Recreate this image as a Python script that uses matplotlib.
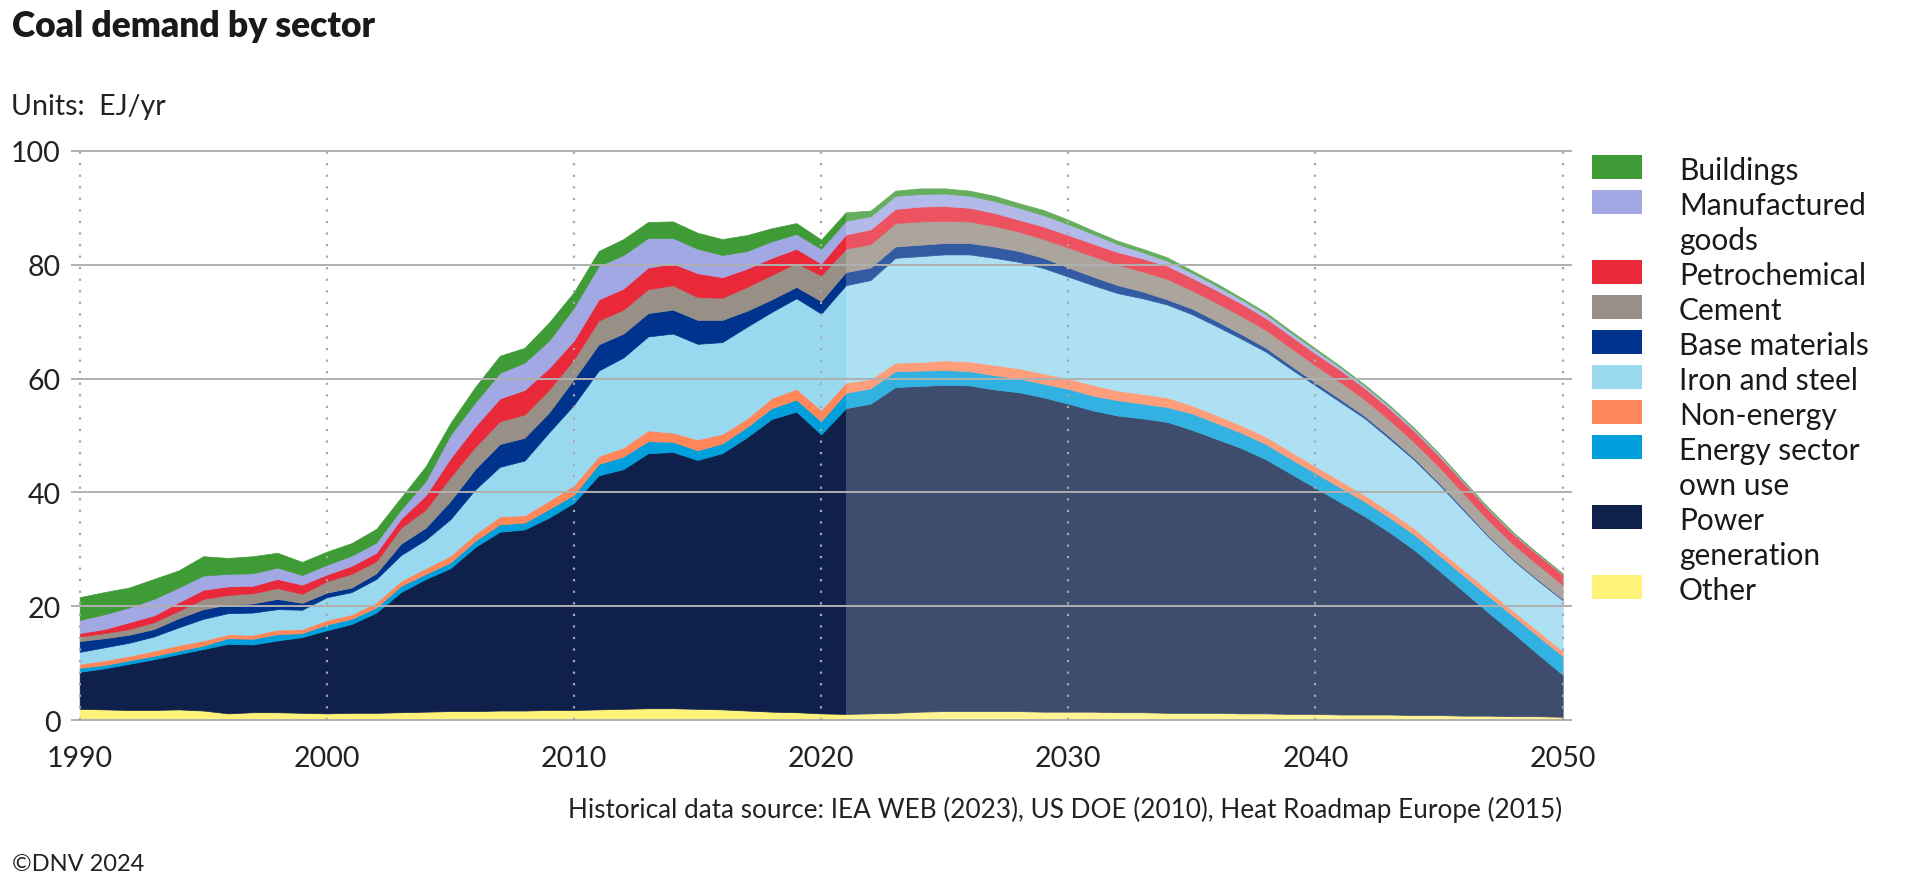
import numpy as np
import matplotlib
matplotlib.use('Agg')
import matplotlib.pyplot as plt
from matplotlib.patches import Rectangle

plt.rcParams['font.family'] = ['Lato', 'DejaVu Sans']

# ---- data (EJ/yr) ----
years = np.arange(1990, 2051)
forecast_start = 2021

other = [2.0, 1.9, 1.8, 1.8, 1.9, 1.7, 1.2, 1.4, 1.4, 1.3,
         1.2, 1.3, 1.3, 1.4, 1.5, 1.6, 1.6, 1.7, 1.7, 1.8,
         1.8, 1.9, 2.0, 2.1, 2.1, 2.0, 1.9, 1.7, 1.5, 1.4,
         1.2, 1.1, 1.2, 1.3, 1.5, 1.6, 1.6, 1.6, 1.6, 1.5,
         1.5, 1.5, 1.4, 1.4, 1.3, 1.3, 1.3, 1.2, 1.2, 1.1,
         1.1, 1.0, 1.0, 1.0, 0.9, 0.9, 0.8, 0.8, 0.7, 0.7, 0.6]
power = [6.5, 7.2, 8.1, 8.9, 9.7, 10.8, 12.2, 11.9, 12.6, 13.3,
         14.6, 15.6, 17.6, 21.1, 23.3, 25.1, 28.8, 31.4, 31.8, 33.8,
         36.4, 41.1, 42.1, 44.8, 45.0, 43.7, 45.0, 48.0, 51.4, 52.8,
         49.0, 53.7, 54.4, 57.2, 57.2, 57.3, 57.2, 56.5, 56.0, 55.2,
         54.1, 52.9, 52.1, 51.6, 51.1, 49.7, 48.1, 46.6, 44.6, 42.2,
         39.7, 37.3, 34.8, 32.0, 29.0, 25.4, 21.8, 18.1, 14.6, 10.9, 7.4]
energy_own = [0.7, 0.6, 0.6, 0.6, 0.6, 0.6, 1.0, 1.0, 1.1, 0.7,
              1.0, 0.9, 0.9, 1.1, 0.9, 1.0, 1.1, 1.3, 1.2, 1.5,
              1.4, 2.0, 2.2, 2.1, 1.8, 1.7, 1.7, 1.8, 1.9, 2.1,
              2.3, 2.7, 2.7, 2.8, 2.7, 2.6, 2.5, 2.5, 2.4, 2.4,
              2.6, 2.6, 2.7, 2.6, 2.6, 2.9, 2.8, 2.7, 2.7, 2.6,
              2.6, 2.6, 2.6, 2.6, 2.7, 2.7, 2.8, 2.9, 3.0, 3.2, 3.3]
non_energy = [0.7, 0.8, 0.8, 0.9, 1.0, 0.9, 0.7, 0.7, 0.8, 0.7,
              0.8, 0.8, 0.9, 0.9, 1.0, 1.2, 1.2, 1.4, 1.3, 1.5,
              1.7, 1.4, 1.6, 1.9, 1.6, 1.9, 1.7, 1.5, 1.8, 1.9,
              2.0, 1.8, 1.6, 1.5, 1.5, 1.7, 1.7, 1.8, 1.8, 1.8,
              1.8, 1.9, 1.7, 1.7, 1.7, 1.4, 1.4, 1.3, 1.3, 1.3,
              1.2, 1.2, 1.1, 1.1, 1.1, 1.0, 1.0, 1.0, 0.9, 0.9, 0.9]
iron_steel = [2.1, 2.3, 2.3, 2.5, 3.1, 3.8, 3.7, 3.9, 3.6, 3.4,
              4.0, 3.9, 4.1, 4.5, 5.0, 6.4, 7.8, 8.7, 9.6, 12.0,
              14.1, 15.0, 15.8, 16.5, 17.4, 16.8, 16.1, 16.1, 15.1, 15.9,
              16.9, 17.1, 17.4, 18.4, 18.6, 18.6, 18.8, 18.8, 18.7, 18.5,
              17.9, 17.5, 17.1, 16.8, 16.3, 16.0, 15.6, 15.2, 14.9, 14.5,
              14.2, 13.8, 13.5, 12.7, 12.0, 11.4, 10.4, 9.4, 8.9, 8.8, 8.9]
base_materials = [1.9, 1.6, 1.4, 1.3, 1.6, 1.7, 1.5, 1.6, 1.8, 1.2,
                  0.8, 0.8, 1.0, 2.0, 2.1, 3.2, 3.6, 4.0, 4.0, 3.5,
                  4.5, 4.6, 4.2, 4.1, 4.2, 4.2, 3.9, 2.8, 2.2, 2.0,
                  2.2, 2.3, 2.2, 2.0, 2.0, 2.0, 2.0, 2.0, 1.9, 1.8,
                  1.6, 1.5, 1.4, 1.2, 0.9, 1.0, 0.9, 0.8, 0.7, 0.6,
                  0.5, 0.5, 0.4, 0.4, 0.3, 0.3, 0.3, 0.2, 0.2, 0.2, 0.2]
cement = [0.8, 0.9, 1.0, 1.2, 1.3, 1.8, 1.7, 1.8, 1.9, 1.6,
          2.0, 2.4, 2.1, 2.8, 3.2, 4.2, 3.9, 4.0, 4.1, 4.0,
          3.5, 4.2, 4.2, 4.2, 4.3, 4.0, 3.9, 4.2, 4.3, 4.2,
          4.5, 4.1, 4.1, 4.1, 4.1, 3.9, 3.8, 3.6, 3.4, 3.3,
          3.5, 3.6, 3.6, 3.5, 3.6, 3.2, 3.2, 3.2, 3.1, 3.1,
          3.0, 3.0, 2.9, 2.9, 2.8, 2.8, 2.7, 2.7, 2.6, 2.6, 2.5]
petrochemical = [0.6, 0.7, 1.2, 1.2, 1.5, 1.6, 1.5, 1.3, 1.6, 1.6,
                 1.2, 1.4, 1.5, 1.6, 2.5, 3.3, 3.6, 4.0, 4.3, 3.8,
                 3.3, 3.7, 3.7, 3.8, 3.8, 4.2, 3.6, 3.2, 3.0, 2.5,
                 2.1, 2.5, 2.6, 2.5, 2.6, 2.6, 2.4, 2.3, 2.1, 2.2,
                 2.2, 2.2, 2.2, 2.3, 2.3, 2.2, 2.2, 2.2, 2.1, 2.1,
                 2.1, 2.1, 2.0, 2.0, 2.0, 1.9, 1.9, 1.9, 1.8, 1.8, 1.8]
manufactured = [2.3, 2.6, 2.6, 2.9, 2.6, 2.5, 2.2, 2.2, 2.0, 1.7,
                1.7, 1.8, 1.8, 1.6, 2.5, 4.1, 4.2, 4.5, 4.8, 4.8,
                5.8, 5.9, 5.9, 5.2, 4.5, 4.3, 3.9, 3.1, 2.9, 2.6,
                2.6, 2.4, 2.3, 2.3, 2.2, 2.2, 2.1, 2.1, 2.1, 2.0,
                1.9, 1.7, 1.4, 1.1, 0.9, 0.9, 0.8, 0.7, 0.7, 0.6,
                0.6, 0.5, 0.4, 0.4, 0.3, 0.3, 0.2, 0.2, 0.2, 0.1, 0.1]
buildings = [4.0, 3.9, 3.5, 3.5, 3.0, 3.4, 2.8, 3.0, 2.6, 2.3,
             2.3, 2.2, 2.4, 2.1, 2.6, 2.1, 2.7, 3.0, 2.6, 3.2,
             2.7, 2.6, 2.8, 2.8, 2.9, 2.8, 2.8, 2.8, 2.3, 1.9,
             1.6, 1.5, 1.0, 0.9, 1.0, 0.9, 0.9, 0.9, 0.8, 0.9,
             0.8, 0.6, 0.6, 0.6, 0.6, 0.4, 0.4, 0.3, 0.3, 0.3,
             0.3, 0.2, 0.2, 0.2, 0.2, 0.15, 0.15, 0.1, 0.1, 0.1, 0.1]

# bottom to top
stack = [other, power, energy_own, non_energy, iron_steel,
         base_materials, cement, petrochemical, manufactured, buildings]
colors = ['#fff27a', '#0f204b', '#00a0dc', '#ff875a', '#99d9f0',
          '#00338d', '#988f86', '#e9283a', '#a1a8e3', '#3f9b35']

# legend, top to bottom
legend_labels = ['Buildings', 'Manufactured\ngoods', 'Petrochemical', 'Cement',
                 'Base materials', 'Iron and steel', 'Non-energy',
                 'Energy sector\nown use', 'Power\ngeneration', 'Other']
legend_colors = colors[::-1]

W, H = 1920, 895
fig = plt.figure(figsize=(W / 100, H / 100), dpi=100)
ax = fig.add_axes([72 / W, 1 - 721.2 / H, 1499 / W, 569.4 / H])

polys = ax.stackplot(years, *stack, colors=colors, zorder=1)
for p, c in zip(polys, colors):
    p.set_edgecolor(c)
    p.set_linewidth(0.5)

# projection part is drawn a bit lighter
ax.axvspan(forecast_start, years[-1], facecolor='white', alpha=0.2, lw=0, zorder=2)

ax.set_xlim(1989.69, 2050.34)
ax.set_ylim(0, 100)

for v in range(0, 101, 20):
    ax.axhline(v, color='#b0b0b0', lw=1.4, zorder=3, clip_on=False)
for d in range(1990, 2051, 10):
    ax.plot([d, d], [0, 100], color='#a8a8a8', lw=1.6, ls=(0, (1, 4.2)),
            zorder=3, clip_on=False)

for s in ax.spines.values():
    s.set_visible(False)
ax.set_xticks(range(1990, 2051, 10))
ax.set_yticks(range(0, 101, 20))
ax.tick_params(length=0, labelsize=20.5, colors='#222222')
ax.tick_params(axis='y', pad=8)
ax.tick_params(axis='x', pad=18)

# titles and notes
fig.text(12 / W, 1 - 37 / H, 'Coal demand by sector', fontsize=25.5,
         fontweight='heavy', color='#1a1a1a', va='baseline')
fig.text(11 / W, 1 - 115 / H, 'Units:  EJ/yr', fontsize=20.5,
         color='#222222', va='baseline')
fig.text(1562 / W, 1 - 818 / H,
         'Historical data source: IEA WEB (2023), US DOE (2010), Heat Roadmap Europe (2015)',
         fontsize=18.8, color='#222222', ha='right', va='baseline')
fig.text(12 / W, 1 - 871 / H, '\u00a9DNV 2024', fontsize=17,
         color='#222222', va='baseline')

# legend drawn by hand so multi-line labels line up like the original
line = 0
for lab, c in zip(legend_labels, legend_colors):
    top = 155.7 + 35 * line
    fig.add_artist(Rectangle((1592 / W, 1 - (top + 24) / H), 50 / W, 24 / H,
                             transform=fig.transFigure, facecolor=c, lw=0))
    for j, txt in enumerate(lab.split('\n')):
        fig.text(1679 / W, 1 - (top + 24 + 35 * j) / H, txt, fontsize=21.5,
                 color='#1a1a1a', va='baseline')
    line += len(lab.split('\n'))

fig.savefig('out.png', dpi=100)
